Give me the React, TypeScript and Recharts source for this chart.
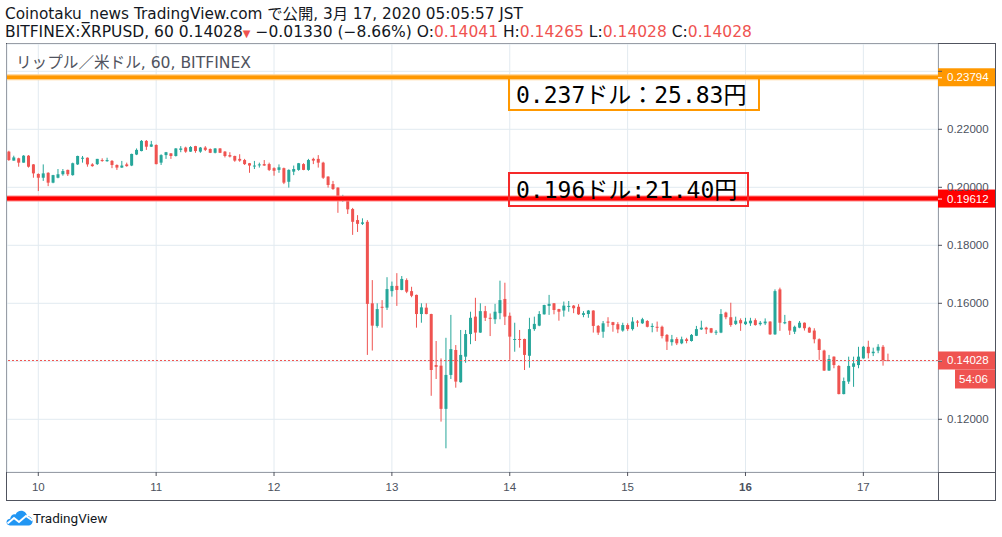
import React from 'react';
import { ComposedChart, Bar, XAxis, YAxis, CartesianGrid, ReferenceLine } from 'recharts';

// BITFINEX:XRPUSD hourly candles, index 0 = Mar 9 18:00, last = Mar 17 05:00
const OPEN = [
  0.2123, 0.2092, 0.2100, 0.2085, 0.2109, 0.2079, 0.2046, 0.2033, 0.2050, 0.2016,
  0.2033, 0.2045, 0.2060, 0.2042, 0.2079, 0.2100, 0.2102, 0.2079, 0.2080, 0.2094,
  0.2090, 0.2091, 0.2077, 0.2068, 0.2079, 0.2075, 0.2113, 0.2125, 0.2160, 0.2140,
  0.2146, 0.2085, 0.2111, 0.2117, 0.2108, 0.2129, 0.2137, 0.2123, 0.2142, 0.2123,
  0.2137, 0.2132, 0.2119, 0.2134, 0.2123, 0.2111, 0.2108, 0.2098, 0.2094, 0.2083,
  0.2072, 0.2076, 0.2080, 0.2080, 0.2066, 0.2060, 0.2066, 0.2019, 0.2054, 0.2060,
  0.2080, 0.2060, 0.2098, 0.2098, 0.2085, 0.2037, 0.2011, 0.1999, 0.1968, 0.1961,
  0.1925, 0.1887, 0.1874, 0.1881, 0.1600, 0.1522, 0.1588, 0.1585, 0.1642, 0.1660,
  0.1646, 0.1680, 0.1642, 0.1629, 0.1563, 0.1585, 0.1563, 0.1387, 0.1385, 0.1236,
  0.1353, 0.1439, 0.1328, 0.1416, 0.1494, 0.1554, 0.1499, 0.1573, 0.1550, 0.1545,
  0.1566, 0.1615, 0.1557, 0.1474, 0.1477, 0.1477, 0.1419, 0.1511, 0.1523, 0.1562,
  0.1591, 0.1600, 0.1580, 0.1575, 0.1588, 0.1592, 0.1588, 0.1560, 0.1563, 0.1575,
  0.1522, 0.1502, 0.1537, 0.1535, 0.1528, 0.1506, 0.1525, 0.1511, 0.1537, 0.1531,
  0.1539, 0.1519, 0.1519, 0.1519, 0.1491, 0.1466, 0.1477, 0.1462, 0.1476, 0.1470,
  0.1488, 0.1510, 0.1516, 0.1514, 0.1499, 0.1499, 0.1568, 0.1552, 0.1529, 0.1542,
  0.1528, 0.1531, 0.1542, 0.1528, 0.1531, 0.1537, 0.1493, 0.1648, 0.1531, 0.1539,
  0.1502, 0.1516, 0.1533, 0.1516, 0.1506, 0.1476, 0.1437, 0.1368, 0.1416, 0.1384,
  0.1287, 0.1330, 0.1381, 0.1387, 0.1410, 0.1450, 0.1428, 0.1437, 0.1450, 0.14041,
];
const HIGH = [
  0.2126, 0.2109, 0.2102, 0.2111, 0.2111, 0.2080, 0.2048, 0.2079, 0.2052, 0.2043,
  0.2063, 0.2063, 0.2061, 0.2085, 0.2109, 0.2108, 0.2103, 0.2083, 0.2098, 0.2100,
  0.2102, 0.2094, 0.2079, 0.2091, 0.2085, 0.2116, 0.2134, 0.2163, 0.2163, 0.2160,
  0.2148, 0.2114, 0.2122, 0.2118, 0.2135, 0.2142, 0.2140, 0.2142, 0.2143, 0.2139,
  0.2142, 0.2134, 0.2135, 0.2135, 0.2125, 0.2121, 0.2109, 0.2114, 0.2098, 0.2084,
  0.2091, 0.2085, 0.2094, 0.2085, 0.2069, 0.2079, 0.2068, 0.2062, 0.2075, 0.2084,
  0.2083, 0.2098, 0.2102, 0.2111, 0.2088, 0.2038, 0.2022, 0.2000, 0.1974, 0.1962,
  0.1929, 0.1904, 0.1893, 0.1887, 0.1680, 0.1600, 0.1611, 0.1690, 0.1675, 0.1704,
  0.1694, 0.1686, 0.1657, 0.1630, 0.1600, 0.1600, 0.1564, 0.1470, 0.1410, 0.1481,
  0.1560, 0.1456, 0.1508, 0.1508, 0.1571, 0.1619, 0.1600, 0.1591, 0.1565, 0.1598,
  0.1678, 0.1671, 0.1568, 0.1533, 0.1508, 0.1478, 0.1550, 0.1554, 0.1573, 0.1595,
  0.1629, 0.1601, 0.1581, 0.1606, 0.1608, 0.1594, 0.1597, 0.1573, 0.1577, 0.1576,
  0.1525, 0.1539, 0.1552, 0.1536, 0.1535, 0.1533, 0.1531, 0.1552, 0.1542, 0.1550,
  0.1542, 0.1531, 0.1537, 0.1523, 0.1494, 0.1491, 0.1483, 0.1485, 0.1481, 0.1494,
  0.1522, 0.1540, 0.1519, 0.1515, 0.1508, 0.1580, 0.1571, 0.1602, 0.1554, 0.1548,
  0.1550, 0.1550, 0.1548, 0.1539, 0.1548, 0.1538, 0.1648, 0.1654, 0.1560, 0.1540,
  0.1523, 0.1539, 0.1534, 0.1519, 0.1514, 0.1479, 0.1440, 0.1422, 0.1417, 0.1387,
  0.1344, 0.1416, 0.1416, 0.1450, 0.1453, 0.1471, 0.1447, 0.1459, 0.1456, 0.14265,
];
const LOW = [
  0.2091, 0.2092, 0.2071, 0.2085, 0.2068, 0.2033, 0.1987, 0.2022, 0.2004, 0.2014,
  0.2031, 0.2040, 0.2039, 0.2040, 0.2077, 0.2085, 0.2071, 0.2071, 0.2077, 0.2088,
  0.2088, 0.2066, 0.2060, 0.2067, 0.2071, 0.2073, 0.2111, 0.2124, 0.2129, 0.2139,
  0.2079, 0.2077, 0.2098, 0.2098, 0.2106, 0.2121, 0.2119, 0.2122, 0.2119, 0.2119,
  0.2125, 0.2118, 0.2117, 0.2118, 0.2103, 0.2103, 0.2088, 0.2088, 0.2077, 0.2050,
  0.2063, 0.2068, 0.2074, 0.2056, 0.2040, 0.2050, 0.2011, 0.1999, 0.2042, 0.2057,
  0.2059, 0.2057, 0.2080, 0.2068, 0.2029, 0.1999, 0.1991, 0.1912, 0.1950, 0.1908,
  0.1836, 0.1846, 0.1870, 0.1422, 0.1437, 0.1516, 0.1516, 0.1577, 0.1623, 0.1591,
  0.1645, 0.1635, 0.1621, 0.1516, 0.1533, 0.1562, 0.1281, 0.1339, 0.1192, 0.1100,
  0.1339, 0.1309, 0.1326, 0.1395, 0.1459, 0.1470, 0.1498, 0.1539, 0.1487, 0.1529,
  0.1545, 0.1525, 0.1405, 0.1433, 0.1447, 0.1370, 0.1378, 0.1505, 0.1521, 0.1561,
  0.1560, 0.1562, 0.1540, 0.1554, 0.1571, 0.1566, 0.1560, 0.1552, 0.1550, 0.1499,
  0.1491, 0.1481, 0.1519, 0.1502, 0.1497, 0.1502, 0.1505, 0.1506, 0.1519, 0.1529,
  0.1517, 0.1500, 0.1502, 0.1479, 0.1439, 0.1454, 0.1456, 0.1459, 0.1462, 0.1468,
  0.1487, 0.1508, 0.1494, 0.1497, 0.1491, 0.1497, 0.1545, 0.1519, 0.1525, 0.1505,
  0.1525, 0.1522, 0.1523, 0.1523, 0.1525, 0.1491, 0.1491, 0.1505, 0.1528, 0.1491,
  0.1494, 0.1514, 0.1506, 0.1498, 0.1462, 0.1405, 0.1367, 0.1367, 0.1376, 0.1286,
  0.1286, 0.1322, 0.1312, 0.1376, 0.1409, 0.1410, 0.1418, 0.1428, 0.1385, 0.14028,
];
const CLOSE = [
  0.2094, 0.2103, 0.2085, 0.2109, 0.2071, 0.2048, 0.2033, 0.2048, 0.2016, 0.2042,
  0.2045, 0.2056, 0.2045, 0.2083, 0.2108, 0.2102, 0.2079, 0.2073, 0.2098, 0.2092,
  0.2094, 0.2077, 0.2068, 0.2075, 0.2073, 0.2115, 0.2129, 0.2160, 0.2140, 0.2148,
  0.2080, 0.2111, 0.2121, 0.2108, 0.2134, 0.2134, 0.2123, 0.2139, 0.2125, 0.2137,
  0.2129, 0.2119, 0.2134, 0.2119, 0.2108, 0.2106, 0.2092, 0.2092, 0.2080, 0.2075,
  0.2075, 0.2079, 0.2075, 0.2060, 0.2057, 0.2069, 0.2016, 0.2060, 0.2063, 0.2083,
  0.2060, 0.2094, 0.2092, 0.2085, 0.2033, 0.2008, 0.1994, 0.1962, 0.1970, 0.1924,
  0.1881, 0.1874, 0.1879, 0.1598, 0.1523, 0.1580, 0.1585, 0.1649, 0.1660, 0.1646,
  0.1684, 0.1640, 0.1626, 0.1563, 0.1586, 0.1563, 0.1370, 0.1381, 0.1236, 0.1353,
  0.1442, 0.1330, 0.1422, 0.1494, 0.1550, 0.1499, 0.1573, 0.1550, 0.1548, 0.1571,
  0.1611, 0.1554, 0.1485, 0.1477, 0.1474, 0.1422, 0.1511, 0.1529, 0.1563, 0.1594,
  0.1598, 0.1577, 0.1571, 0.1592, 0.1591, 0.1583, 0.1562, 0.1566, 0.1575, 0.1522,
  0.1499, 0.1531, 0.1533, 0.1525, 0.1510, 0.1525, 0.1511, 0.1537, 0.1535, 0.1545,
  0.1519, 0.1522, 0.1516, 0.1487, 0.1468, 0.1476, 0.1462, 0.1476, 0.1470, 0.1491,
  0.1511, 0.1516, 0.1510, 0.1499, 0.1502, 0.1563, 0.1552, 0.1525, 0.1540, 0.1531,
  0.1537, 0.1540, 0.1525, 0.1533, 0.1537, 0.1493, 0.1642, 0.1533, 0.1535, 0.1506,
  0.1519, 0.1533, 0.1514, 0.1499, 0.1476, 0.1439, 0.1368, 0.1408, 0.1387, 0.1287,
  0.1332, 0.1384, 0.1393, 0.1416, 0.1450, 0.1428, 0.1433, 0.1450, 0.1404, 0.14028,
];

// midnight of each day, as candle index
const DAY_TICKS = [6, 30, 54, 78, 102, 126, 150, 174];
const DAY_LABELS = ['10', '11', '12', '13', '14', '15', '16', '17'];
const PRICE_TICKS = [0.12, 0.14, 0.16, 0.18, 0.2, 0.22, 0.24];

const TARGET_PRICE = 0.23794;
const SUPPORT_PRICE = 0.19612;
const TARGET_NOTE = '0.237ドル：25.83円';
const SUPPORT_NOTE = '0.196ドル:21.40円';
const COUNTDOWN = '54:06';

const rows = OPEN.map((open, i) => ({
  i,
  open,
  high: HIGH[i],
  low: LOW[i],
  close: CLOSE[i],
  range: [LOW[i], HIGH[i]],
}));

const UP = '#26a69a';
const DOWN = '#ef5350';
const FRAME = '#50535e';
const SCALE_TEXT = '#4c525e';
const UI_FONT = '"DejaVu Sans", "Noto Sans CJK JP", sans-serif';
const SCALE_FONT = '"Liberation Sans", Arial, sans-serif';
const NOTE_FONT = '"DejaVu Sans Mono", "Noto Sans CJK JP", monospace';

// scale labels that sit under a price tag are hidden by the tag
const TAGGED = [TARGET_PRICE, CLOSE[CLOSE.length - 1]];

function Candle(props: any) {
  const { x, y, width, height, payload } = props;
  if (height == null || !payload) return null;
  const { open, close, high, low } = payload;
  const span = high - low || 1e-9;
  const py = (v: number) => y + ((high - v) / span) * height;
  const color = close >= open ? UP : DOWN;
  const cx = x + width / 2;
  const top = py(Math.max(open, close));
  const bottom = py(Math.min(open, close));
  return (
    <g>
      <line x1={cx} x2={cx} y1={y} y2={y + height} stroke={color} strokeWidth={1} />
      <rect x={x} y={top} width={width} height={Math.max(1, bottom - top)} fill={color} />
    </g>
  );
}

function PriceTag(props: any) {
  const { viewBox, text, color, extra } = props;
  if (!viewBox) return null;
  const x = viewBox.x + viewBox.width;
  const y = viewBox.y;
  return (
    <g>
      <rect x={x} y={y - 9} width={57} height={18} fill={color} />
      <line x1={x} x2={x + 4} y1={y + 0.5} y2={y + 0.5} stroke="#fff" />
      <text x={x + 9} y={y + 4} fill="#fff" fontSize={11.5} fontFamily={SCALE_FONT}>
        {text}
      </text>
      {extra ? (
        <g>
          <rect x={x + 17} y={y + 9} width={40} height={19} fill={color} />
          <text x={x + 21} y={y + 23} fill="#fff" fontSize={11.5} fontFamily={SCALE_FONT}>
            {extra}
          </text>
        </g>
      ) : null}
    </g>
  );
}

function PriceTick(props: any) {
  const { x, y, payload } = props;
  const v = payload.value;
  if (TAGGED.some((t) => Math.abs(t - v) < 0.003)) return null;
  return (
    <text x={x} y={y} dy="0.355em" fontSize={11.5} fill={SCALE_TEXT} fontFamily={SCALE_FONT}>
      {v.toFixed(5)}
    </text>
  );
}

function DayTick(props: any) {
  const { x, y, payload } = props;
  const label = DAY_LABELS[DAY_TICKS.indexOf(payload.value)];
  return (
    <text
      x={x}
      y={y}
      dy="0.71em"
      textAnchor="middle"
      fontSize={11.5}
      fill={SCALE_TEXT}
      fontFamily={SCALE_FONT}
      fontWeight={label === '16' ? 'bold' : 'normal'}
    >
      {label}
    </text>
  );
}

export default function App() {
  const last = rows[rows.length - 1];
  const red = { color: DOWN };
  return (
    <div
      style={{
        position: 'absolute',
        left: 0,
        top: 0,
        width: 1002,
        height: 537,
        background: '#fff',
        overflow: 'hidden',
        fontFamily: UI_FONT,
      }}
    >
      <svg style={{ position: 'absolute', left: 0, top: 0 }} width={1002} height={537}>
        <rect x={6.5} y={43.5} width={989} height={457} fill="none" stroke={FRAME} />
        <line x1={938.5} x2={938.5} y1={43.5} y2={500.5} stroke={FRAME} />
        <line x1={6.5} x2={995.5} y1={472.5} y2={472.5} stroke={FRAME} />
      </svg>

      <div style={{ position: 'absolute', left: 0, top: 0 }}>
        <ComposedChart
          width={1002}
          height={537}
          data={rows}
          margin={{ top: 44, right: 7, bottom: 37, left: 7 }}
        >
          <CartesianGrid stroke="#e2eaf0" />
          <XAxis
            dataKey="i"
            type="number"
            domain={[-0.37, 189.2]}
            ticks={DAY_TICKS}
            interval={0}
            height={28}
            tickSize={4}
            tickMargin={7}
            axisLine={false}
            tickLine={{ stroke: FRAME }}
            tick={<DayTick />}
          />
          <YAxis
            orientation="right"
            domain={[0.101828, 0.249414]}
            ticks={PRICE_TICKS}
            interval={0}
            width={57}
            tickSize={4}
            tickMargin={5}
            axisLine={false}
            tickLine={{ stroke: FRAME }}
            tick={<PriceTick />}
          />
          <ReferenceLine y={TARGET_PRICE} stroke="#ffcf8a" strokeWidth={6} />
          <ReferenceLine
            y={TARGET_PRICE}
            stroke="#ff9800"
            strokeWidth={3.5}
            label={<PriceTag text={TARGET_PRICE.toFixed(5)} color="#ff9800" />}
          />
          <ReferenceLine y={SUPPORT_PRICE} stroke="#ff8a8a" strokeWidth={6} />
          <ReferenceLine
            y={SUPPORT_PRICE}
            stroke="#ff0000"
            strokeWidth={4}
            label={<PriceTag text={SUPPORT_PRICE.toFixed(5)} color="#ff0000" />}
          />
          <ReferenceLine
            y={last.close}
            stroke={DOWN}
            strokeWidth={1}
            strokeDasharray="2 2"
            label={<PriceTag text={last.close.toFixed(5)} color={DOWN} extra={COUNTDOWN} />}
          />
          <Bar dataKey="range" barSize={3} shape={<Candle />} isAnimationActive={false} />
        </ComposedChart>
      </div>

      <div
        style={{
          position: 'absolute',
          left: 5,
          top: 5,
          fontSize: 15.3,
          lineHeight: '18px',
          color: '#131722',
          whiteSpace: 'nowrap',
        }}
      >
        Coinotaku_news TradingView.com で公開, 3月 17, 2020 05:05:57 JST
      </div>
      <div
        style={{
          position: 'absolute',
          left: 5,
          top: 23,
          fontSize: 15.5,
          lineHeight: '18px',
          color: '#131722',
          whiteSpace: 'nowrap',
        }}
      >
        BITFINEX:XRPUSD, 60 {last.close.toFixed(5)}
        <span style={{ ...red, fontSize: 10 }}>▼</span> −0.01330 (−8.66%) O:
        <span style={red}>{last.open.toFixed(5)}</span> H:
        <span style={red}>{last.high.toFixed(5)}</span> L:
        <span style={red}>{last.low.toFixed(5)}</span> C:
        <span style={red}>{last.close.toFixed(5)}</span>
      </div>
      <div
        style={{
          position: 'absolute',
          left: 16,
          top: 54,
          fontSize: 15.6,
          lineHeight: '18px',
          color: FRAME,
          whiteSpace: 'nowrap',
        }}
      >
        リップル／米ドル, 60, BITFINEX
      </div>

      <div
        style={{
          position: 'absolute',
          left: 508,
          top: 77,
          width: 252,
          height: 34,
          boxSizing: 'border-box',
          border: '2px solid #ff9800',
        }}
      >
        <div
          style={{
            position: 'absolute',
            left: 6,
            top: 2,
            fontSize: 23,
            lineHeight: '28px',
            fontFamily: NOTE_FONT,
            color: '#000',
            whiteSpace: 'nowrap',
          }}
        >
          {TARGET_NOTE}
        </div>
      </div>
      <div
        style={{
          position: 'absolute',
          left: 508,
          top: 172,
          width: 241,
          height: 35,
          boxSizing: 'border-box',
          border: '2px solid #f52a2a',
        }}
      >
        <div
          style={{
            position: 'absolute',
            left: 6,
            top: 2,
            fontSize: 23,
            lineHeight: '28px',
            fontFamily: NOTE_FONT,
            color: '#000',
            whiteSpace: 'nowrap',
          }}
        >
          {SUPPORT_NOTE}
        </div>
      </div>

      <svg style={{ position: 'absolute', left: 6, top: 510 }} width={28} height={16} viewBox="0 0 28 16">
        <path
          d="M4 15.5C1.5 15.5 0.2 13.6 0.6 11.6 1 9.8 2.5 8.8 4.2 8.8 4.4 5.6 7 3.8 9.6 4.4 11 1.2 14.4 0 17.4 1.2 19.6 2.1 20.8 4 21 6 24.2 6 26.6 8.4 26.6 11.2 26.6 13.6 24.8 15.5 22.6 15.5Z"
          fill="#2196f3"
        />
        <path d="M1.5 13.5 L8 8 L13 12 L20 6 L26.5 10.5" fill="none" stroke="#fff" strokeWidth={2} />
      </svg>
      <div
        style={{
          position: 'absolute',
          left: 33,
          top: 509,
          fontSize: 13.5,
          lineHeight: '18px',
          fontFamily: 'Roboto, sans-serif',
          color: '#131722',
          whiteSpace: 'nowrap',
        }}
      >
        TradingView
      </div>
    </div>
  );
}
